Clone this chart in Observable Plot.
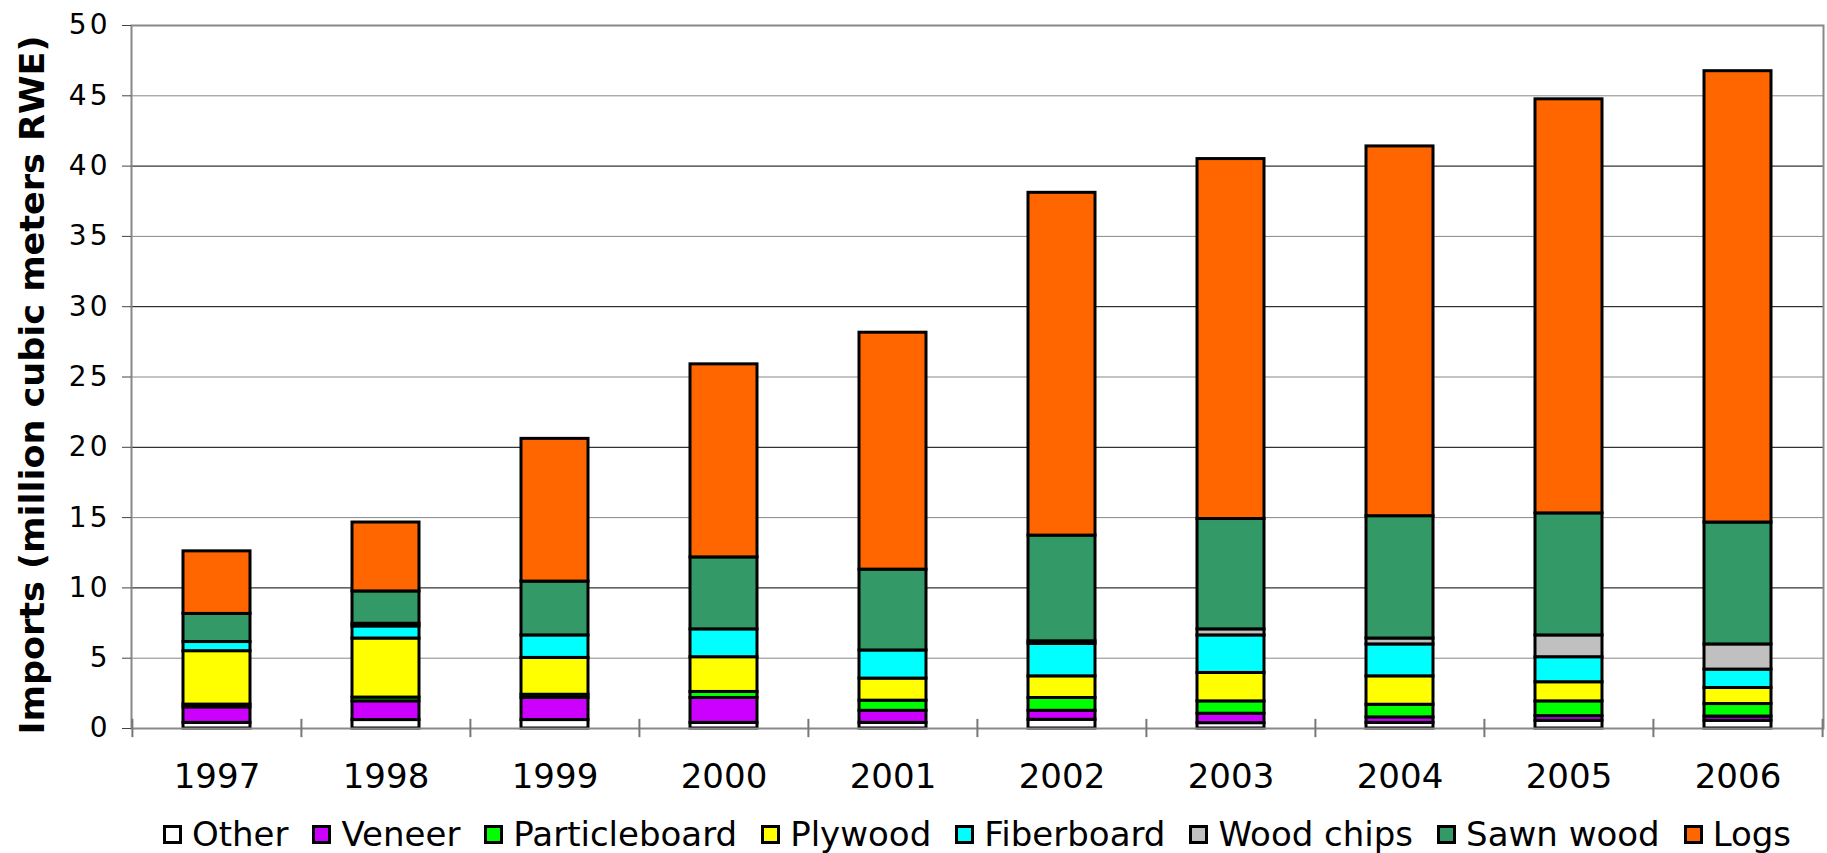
<!DOCTYPE html>
<html>
<head>
<meta charset="utf-8">
<script src="https://cdn.jsdelivr.net/npm/d3@7"></script>
<script src="https://cdn.jsdelivr.net/npm/@observablehq/plot@0.6"></script>
<style>
  html, body { margin: 0; padding: 0; background: white; }
  #legend {
    box-sizing: border-box;
    width: 1827px;
    padding-left: 131px;
    padding-right: 4px;
    margin-top: 14px;
    display: flex;
    justify-content: center;
    gap: 24px;
    font-family: "DejaVu Sans", sans-serif;
    font-size: 34px;
    line-height: 40px;
    color: black;
  }
  #legend .item { display: flex; align-items: center; white-space: nowrap; }
  #legend .sw { display: inline-block; width: 13px; height: 13px; border: 3px solid black; margin-right: 10px; }
</style>
</head>
<body>
<div id="chart"></div>
<div id="legend"></div>
<script>
const years = ["1997", "1998", "1999", "2000", "2001", "2002", "2003", "2004", "2005", "2006"];
const products = ["Other", "Veneer", "Particleboard", "Plywood", "Fiberboard", "Wood chips", "Sawn wood", "Logs"];
const colors = ["#FFFFFF", "#CC00FF", "#00FF00", "#FFFF00", "#00FFFF", "#C0C0C0", "#339966", "#FF6600"];

const other         = [0.40, 0.60, 0.60, 0.40, 0.40, 0.62, 0.38, 0.40, 0.55, 0.55];
const veneer        = [1.10, 1.33, 1.57, 1.77, 0.86, 0.64, 0.67, 0.39, 0.33, 0.30];
const particleboard = [0.20, 0.27, 0.23, 0.43, 0.72, 0.91, 0.88, 0.90, 1.05, 0.89];
const plywood       = [3.80, 4.20, 2.62, 2.47, 1.57, 1.54, 2.02, 2.02, 1.36, 1.14];
const fiberboard    = [0.65, 0.86, 1.60, 1.98, 2.00, 2.31, 2.67, 2.27, 1.78, 1.31];
const woodChips     = [0.00, 0.19, 0.00, 0.00, 0.00, 0.18, 0.43, 0.42, 1.55, 1.79];
const sawnWood      = [2.00, 2.30, 3.83, 5.12, 5.75, 7.52, 7.85, 8.70, 8.68, 8.67];
const logs          = [4.45, 4.90, 10.15, 13.73, 16.85, 24.38, 25.60, 26.30, 29.45, 32.10];

const yTicks = [0, 5, 10, 15, 20, 25, 30, 35, 40, 45, 50];
const yTitle = "Imports (million cubic meters RWE)";

const series = [other, veneer, particleboard, plywood, fiberboard, woodChips, sawnWood, logs];
const data = years.flatMap((yr, i) => products.map((p, j) => ({year: yr, product: p, value: series[j][i]})));

const W = 1827, H = 800, ML = 131, MR = 4, MT = 25, MB = 72;
const step = (W - ML - MR) / years.length;

const chart = Plot.plot({
  width: W, height: H,
  marginTop: MT, marginBottom: MB, marginLeft: ML, marginRight: MR,
  style: {fontFamily: "DejaVu Sans", background: "white", color: "black"},
  x: {domain: years, paddingInner: 0.604, paddingOuter: 0.302, label: null, axis: null},
  y: {domain: [0, 50], label: null, axis: null},
  color: {domain: products, range: colors},
  marks: [
    Plot.ruleY(yTicks.filter(d => d % 10 !== 0 && d !== 0), {stroke: "#888", strokeWidth: 1}),
    Plot.ruleY(yTicks.filter(d => d % 10 === 0 && d !== 0 && d !== 50), {stroke: "#000", strokeWidth: 1}),
    Plot.barY(data, {x: "year", y: "value", fill: "product", order: products, stroke: "black", strokeWidth: 3}),
    Plot.frame({stroke: "#888", strokeWidth: 2}),
    Plot.axisY(yTicks, {tickSize: 9, tickPadding: 12, fontSize: 28, stroke: "#444", fill: "black", label: null, className: "yax"}),
    Plot.axisX({tickSize: 0, tickPadding: 35, fontSize: 34, fill: "black", label: null}),
    Plot.ruleX(years, {x: d => d, dx: -step / 2, y1: -0.65, y2: 0.65, stroke: "#777", strokeWidth: 2}),
    Plot.ruleX([years[years.length - 1]], {x: d => d, dx: step / 2, y1: -0.65, y2: 0.65, stroke: "#777", strokeWidth: 2}),
    Plot.text([yTitle], {text: d => d, frameAnchor: "left", textAnchor: "middle", lineAnchor: "middle", rotate: -90, dx: -98, dy: 8, fontSize: 34, fontWeight: "bold", fill: "black", fontFamily: "DejaVu Sans Condensed, DejaVu Sans", className: "ytitle"})
  ]
});
document.getElementById("chart").appendChild(chart);
d3.select(chart).selectAll(".ytitle text")
  .attr("textLength", 699)
  .attr("lengthAdjust", "spacingAndGlyphs")
  .style("font-stretch", "condensed");
d3.select(chart).selectAll(".yax text")
  .style("letter-spacing", "3px");

const legend = d3.select("#legend");
products.forEach((p, i) => {
  const item = legend.append("span").attr("class", "item");
  item.append("span").attr("class", "sw").style("background", colors[i]);
  item.append("span").text(p);
});
</script>
</body>
</html>
